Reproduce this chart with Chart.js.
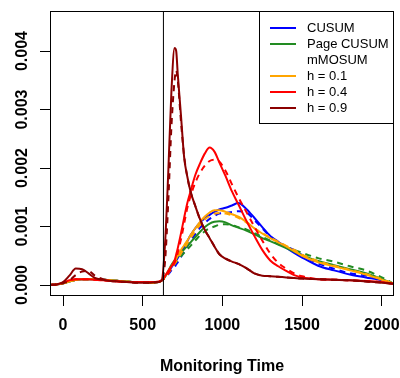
<!DOCTYPE html>
<html><head><meta charset="utf-8">
<script src="https://cdn.jsdelivr.net/npm/chart.js@4/dist/chart.umd.min.js"></script>
<style>html,body{margin:0;padding:0;background:#fff;}</style>
</head><body>
<canvas id="c" width="400" height="378"></canvas>
<script>
// ---- data ----
const xs = [-80,-40,0,40,80,120,160,200,250,300,350,400,450,500,550,600,620,
  640,660,680,700,710,720,740,760,780,800,830,860,890,920,950,980,1020,1060,1100,
  1150,1200,1250,1300,1350,1400,1450,1500,1600,1700,1800,1900,2000,2076];

const earlyBase = [0,0.00001,0.00003,0.00006,0.00009,0.0001,0.0001,0.0001,0.00009,0.00008,0.00007,0.00006,0.00005,0.00005,0.00004,0.00005,0.00008];
const earlyRed  = [0,0.00001,0.00004,0.00008,0.0001,0.0001,0.0001,0.00009,0.00008,0.00007,0.00006,0.00005,0.00005,0.00005,0.00005,0.00006,0.00008];

const cusumSolid = earlyBase.concat([0.00015,0.00022,0.0003,0.00038,0.00042,0.00046,0.00056,0.00065,0.00075,0.00085,0.00097,0.00107,0.00114,0.0012,0.00125,0.00129,0.00132,0.00136,0.0014,0.0013,0.00115,0.00099,0.00084,0.00074,0.00064,0.00055,0.00047,0.00033,0.00025,0.00018,0.00013,0.00008,0.00002]);
const cusumDash  = earlyBase.concat([0.00012,0.00018,0.00025,0.00031,0.00035,0.00039,0.00048,0.00057,0.00066,0.00075,0.00087,0.00098,0.00106,0.00113,0.00118,0.00122,0.00123,0.00125,0.00126,0.00124,0.00111,0.00097,0.00083,0.00073,0.00066,0.0006,0.00051,0.00037,0.00028,0.0002,0.00016,0.00009,0.00002]);
const pageSolid  = earlyBase.concat([0.00014,0.00024,0.00034,0.00042,0.00045,0.00049,0.00055,0.00061,0.00067,0.00073,0.00082,0.00091,0.00099,0.00105,0.00108,0.00109,0.00107,0.00102,0.00098,0.00093,0.00087,0.0008,0.00075,0.00069,0.00063,0.00057,0.00051,0.00041,0.00034,0.00027,0.0002,0.0001,0.00002]);
const pageDash   = earlyBase.concat([0.00012,0.0002,0.00029,0.00036,0.00039,0.00043,0.00049,0.00055,0.00061,0.00067,0.00076,0.00085,0.00092,0.00097,0.001,0.00103,0.00104,0.00102,0.00099,0.00095,0.00089,0.00082,0.00076,0.0007,0.00065,0.0006,0.00055,0.00046,0.0004,0.00032,0.00025,0.00013,0.00002]);
const h01Solid   = earlyBase.concat([0.00015,0.00023,0.00032,0.0004,0.00045,0.0005,0.0006,0.00068,0.00076,0.00085,0.00097,0.00108,0.00117,0.00124,0.00128,0.00128,0.00125,0.00121,0.00117,0.00108,0.00097,0.00088,0.0008,0.00073,0.00066,0.00058,0.0005,0.00039,0.00032,0.00025,0.00018,0.00009,0.00002]);
const h01Dash    = earlyBase.concat([0.00013,0.0002,0.00028,0.00036,0.0004,0.00045,0.00054,0.00063,0.00071,0.0008,0.00092,0.00103,0.00112,0.00118,0.00122,0.00123,0.00122,0.00119,0.00115,0.00107,0.00097,0.00089,0.00081,0.00074,0.00067,0.0006,0.00052,0.00041,0.00033,0.00026,0.00019,0.0001,0.00002]);
const h04Solid   = earlyRed.concat([0.00015,0.00024,0.00032,0.00042,0.00052,0.00063,0.00088,0.00115,0.0014,0.0016,0.00188,0.00208,0.00225,0.00235,0.00228,0.0021,0.00186,0.0016,0.00138,0.0011,0.00084,0.0006,0.00042,0.00032,0.00024,0.00017,0.00013,0.0001,0.00009,0.00008,0.00007,0.00005,0.00002]);
const h04Dash    = earlyRed.concat([0.00012,0.0002,0.00029,0.00038,0.00045,0.00055,0.00078,0.00105,0.00132,0.00152,0.00175,0.00192,0.00204,0.00212,0.00214,0.00211,0.00195,0.00172,0.0015,0.00125,0.001,0.00076,0.00054,0.00038,0.00028,0.0002,0.00015,0.0001,0.00009,0.00008,0.00007,0.00005,0.00002]);
const h09Solid   = [0,0.00001,0.00005,0.00016,0.00028,0.00027,0.0002,0.00012,0.00009,0.00007,0.00006,0.00005,0.00004,0.00004,0.00004,0.00005,0.00008,
  0.0007,0.0019,0.0033,0.00405,0.004,0.0036,0.0029,0.00218,0.00185,0.0016,0.00135,0.00112,0.00094,0.0008,0.00066,0.00053,0.00045,0.0004,0.00036,0.00029,0.0002,0.00016,0.00015,0.00014,0.00013,0.00012,0.00011,0.0001,0.00009,0.00008,0.00006,0.00004,0.00002];
const h09Dash    = [0,0.00001,0.00003,0.00008,0.00017,0.00023,0.00024,0.00016,0.0001,0.00007,0.00006,0.00005,0.00004,0.00004,0.00004,0.00005,0.00008,
  0.0004,0.0014,0.0027,0.0035,0.00367,0.0035,0.0028,0.0022,0.00185,0.0016,0.00135,0.00112,0.00094,0.0008,0.00066,0.00053,0.00045,0.0004,0.00036,0.00029,0.0002,0.00016,0.00015,0.00014,0.00013,0.00012,0.00011,0.0001,0.00009,0.00008,0.00006,0.00004,0.00002];

const changeTime = 630;
const xTicks = [0,500,1000,1500,2000];
const yTicks = [0,0.001,0.002,0.003,0.004];
const xRange = [-81.6, 2076.5];
const yRange = [-0.000188, 0.004684];
const legendLabels = ['CUSUM','Page CUSUM','mMOSUM','h = 0.1','h = 0.4','h = 0.9'];
const legendColors = ['#0000FF','#228B22',null,'#FFA500','#FF0000','#8B0000'];

// ---- chart ----
const FONT = '"Liberation Sans", Arial, Helvetica, sans-serif';
const toPts = arr => xs.map((x,i)=>({x:x,y:arr[i]}));
const series = [
  [cusumSolid,'#0000FF',false],[cusumDash,'#0000FF',true],
  [pageSolid,'#228B22',false],[pageDash,'#228B22',true],
  [h01Solid,'#FFA500',false],[h01Dash,'#FFA500',true],
  [h04Solid,'#FF0000',false],[h04Dash,'#FF0000',true],
  [h09Solid,'#8B0000',false],[h09Dash,'#8B0000',true]
];
const datasets = series.map(([arr,col,dash])=>({
  data: toPts(arr), borderColor: col, borderWidth: 2, borderDash: dash?[6,5]:[],
  pointRadius: 0, fill:false, cubicInterpolationMode:'monotone'
}));
datasets.push({data:[{x:changeTime,y:yRange[0]},{x:changeTime,y:yRange[1]}], borderColor:'#000', borderWidth:1, pointRadius:0, fill:false});
datasets.forEach((d,i)=>{ d.order = (i===datasets.length-1)? 0 : datasets.length - i; });

const boxPlugin = {
  id:'boxLegend',
  afterDraw(chart){
    const ctx = chart.ctx, a = chart.chartArea;
    ctx.save();
    ctx.strokeStyle='#000'; ctx.lineWidth=1;
    ctx.strokeRect(Math.round(a.left)+0.5, Math.round(a.top)+0.5, Math.round(a.right-a.left)-1, Math.round(a.bottom-a.top)-1);
    // legend
    const lw = 135, lh = 113;
    const lx = Math.round(a.right) - lw, ly = Math.round(a.top);
    ctx.fillStyle='#fff';
    ctx.fillRect(lx+0.5, ly+0.5, lw-1, lh-1);
    ctx.strokeRect(lx+0.5, ly+0.5, lw-1, lh-1);
    ctx.font = '13px ' + FONT;
    ctx.textBaseline='middle'; ctx.textAlign='left';
    legendLabels.forEach((lab,i)=>{
      const y = ly + 17 + 16*i;
      if (legendColors[i]) {
        ctx.strokeStyle = legendColors[i]; ctx.lineWidth = 2;
        ctx.beginPath(); ctx.moveTo(lx+11, y); ctx.lineTo(lx+37, y); ctx.stroke();
      }
      ctx.fillStyle='#000';
      ctx.fillText(lab, lx+48, y);
    });
    ctx.restore();
  }
};

new Chart(document.getElementById('c'), {
  type:'line',
  data:{datasets},
  options:{
    responsive:false, animation:false, devicePixelRatio:1,
    layout:{padding:{top:11,right:6,left:0,bottom:0}},
    plugins:{legend:{display:false}, tooltip:{enabled:false}},
    scales:{
      x:{type:'linear', min:xRange[0], max:xRange[1],
        afterBuildTicks: s=>{ s.ticks = xTicks.map(v=>({value:v})); },
        afterFit: s=>{ s.height = 82; s.paddingLeft = 0; s.paddingRight = 0; },
        grid:{display:true, drawOnChartArea:false, drawTicks:true, tickLength:10, color:'#000', lineWidth:1},
        border:{display:false},
        ticks:{autoSkip:false, maxRotation:0, minRotation:0, padding:10, color:'#000',
          font:{family:FONT, size:16, weight:'bold'}, callback:v=>String(v)},
        title:{display:true, text:'Monitoring Time', color:'#000',
          font:{family:FONT, size:16, weight:'bold'}, padding:{top:0,bottom:2}}
      },
      y:{type:'linear', min:yRange[0], max:yRange[1],
        afterBuildTicks: s=>{ s.ticks = yTicks.map(v=>({value:v})); },
        afterFit: s=>{ s.width = 50; s.paddingTop = 0; s.paddingBottom = 0; },
        grid:{display:true, drawOnChartArea:false, drawTicks:true, tickLength:10, color:'#000', lineWidth:1},
        border:{display:false},
        ticks:{autoSkip:false, minRotation:90, maxRotation:90, crossAlign:'center', padding:-2.5, color:'#000',
          font:{family:FONT, size:16, weight:'bold'}, callback:v=>v.toFixed(3)}
      }
    }
  },
  plugins:[boxPlugin]
});
</script>
</body></html>
